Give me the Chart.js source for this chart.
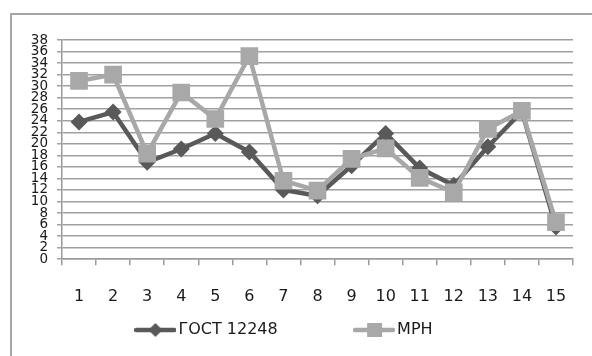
<!DOCTYPE html>
<html>
<head>
<meta charset="utf-8">
<script src="https://cdn.jsdelivr.net/npm/chart.js@4/dist/chart.umd.min.js"></script>
<style>
  html, body { margin: 0; padding: 0; background: #fff; overflow: hidden; }
  #wrap { position: relative; width: 592px; height: 356px; }
  #frame { position: absolute; left: 10px; top: 13px; width: 600px; height: 360px; border: 2px solid #a6a6a6; }
  #chart { position: absolute; left: 0; top: 0; }
</style>
</head>
<body>
<div id="wrap">
  <div id="frame"></div>
  <canvas id="chart" width="592" height="356"></canvas>
</div>
<script>
// data
let categories = ['1', '2', '3', '4', '5', '6', '7', '8', '9', '10', '11', '12', '13', '14', '15'];
let gost = [23.8, 25.5, 16.8, 19.1, 21.8, 18.6, 12.0, 11.0, 16.2, 21.8, 15.8, 12.8, 19.5, 25.6, 5.6];
let mrn = [30.9, 32.0, 18.3, 28.9, 24.3, 35.2, 13.6, 11.9, 17.4, 19.2, 14.1, 11.6, 22.6, 25.7, 6.4];
let yTicks = [0, 2, 4, 6, 8, 10, 12, 14, 16, 18, 20, 22, 24, 26, 28, 30, 32, 34, 36, 38];

let darkColor = '#595959';
let lightColor = '#a8a8a8';
let fontFamily = 'DejaVu Sans';

// legend symbol: short line with marker in the middle
function legendIcon(color, style) {
    let c = document.createElement('canvas');
    c.width = 42;
    c.height = 18;
    let ctx = c.getContext('2d');
    ctx.strokeStyle = color;
    ctx.lineWidth = 4.5;
    ctx.lineCap = 'round';
    ctx.beginPath();
    ctx.moveTo(2, 9);
    ctx.lineTo(40, 9);
    ctx.stroke();
    ctx.fillStyle = color;
    ctx.beginPath();
    if (style == 'diamond') {
        ctx.moveTo(21, 2);
        ctx.lineTo(28, 9);
        ctx.lineTo(21, 16);
        ctx.lineTo(14, 9);
    } else {
        ctx.rect(14, 2, 15, 14);
    }
    ctx.fill();
    return c;
}

let icons = [legendIcon(darkColor, 'diamond'), legendIcon(lightColor, 'square')];
let legendText = ['ГОСТ 12248' + '\u00a0'.repeat(16), 'МРН'];

let ctx = document.getElementById('chart').getContext('2d');
let chart = new Chart(ctx, {
    type: 'line',
    data: {
        labels: categories,
        datasets: [{
                label: 'ГОСТ 12248',
                data: gost,
                borderColor: darkColor,
                backgroundColor: darkColor,
                borderWidth: 4.5,
                pointStyle: 'rectRot',
                pointRadius: 8.5,
                pointBorderWidth: 0,
                tension: 0,
                order: 1
            },
            {
                label: 'МРН',
                data: mrn,
                borderColor: lightColor,
                backgroundColor: lightColor,
                borderWidth: 4.5,
                pointStyle: 'rect',
                pointRadius: 12.5,
                pointBorderWidth: 0,
                tension: 0,
                order: 0
            }
        ]
    },
    options: {
        responsive: false,
        animation: false,
        layout: {
            padding: { top: 40, right: 19, bottom: 8, left: 0 }
        },
        plugins: {
            tooltip: { enabled: false },
            legend: {
                position: 'bottom',
                labels: {
                    usePointStyle: true,
                    pointStyleWidth: 30,
                    boxHeight: 18,
                    padding: 0,
                    color: '#1a1a1a',
                    font: { family: fontFamily, size: 16 },
                    generateLabels: function(chart) {
                        return chart.data.datasets.map(function(ds, i) {
                            return {
                                text: legendText[i],
                                pointStyle: icons[i],
                                fillStyle: ds.borderColor,
                                strokeStyle: ds.borderColor,
                                lineWidth: 0,
                                fontColor: '#1a1a1a',
                                datasetIndex: i
                            };
                        });
                    }
                }
            }
        },
        scales: {
            x: {
                offset: true,
                afterFit: function(scale) { scale.height = scale.height - 6; },
                grid: {
                    offset: true,
                    drawOnChartArea: false,
                    drawTicks: true,
                    tickLength: 6,
                    color: '#9a9a9a',
                    lineWidth: 1.5
                },
                border: { color: '#9a9a9a', width: 1.5 },
                ticks: {
                    color: '#1a1a1a',
                    padding: 25,
                    font: { family: fontFamily, size: 16, lineHeight: 0.8 },
                    autoSkip: false,
                    maxRotation: 0
                }
            },
            y: {
                min: 0,
                max: 38,
                afterFit: function(scale) { scale.width = 62; },
                afterBuildTicks: function(scale) {
                    scale.ticks = yTicks.map(v => ({ value: v }));
                },
                grid: {
                    color: '#a0a0a0',
                    lineWidth: 1.5,
                    tickLength: 5
                },
                border: { color: '#9a9a9a', width: 1.5 },
                ticks: {
                    color: '#1a1a1a',
                    padding: 9,
                    autoSkip: false,
                    font: { family: fontFamily, size: 13.5, lineHeight: 0.8 }
                }
            }
        }
    }
});
</script>
</body>
</html>
